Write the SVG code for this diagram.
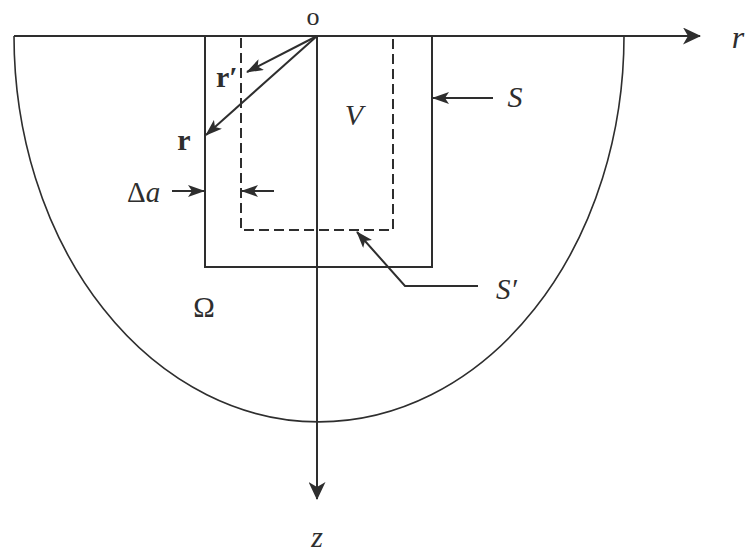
<svg xmlns="http://www.w3.org/2000/svg" width="746" height="552" viewBox="0 0 746 552">
<style>
.ln{stroke:#2e2e2e;stroke-width:2;fill:none}
.thin{stroke:#2e2e2e;stroke-width:1.6;fill:none}
.dash{stroke:#2e2e2e;stroke-width:2;fill:none;stroke-dasharray:10 5}
text{font-family:"Liberation Serif","DejaVu Serif",serif;fill:#2e2e2e}
.it{font-style:italic}
.bd{font-weight:bold}
</style>
<defs>
<marker id="big" viewBox="0 0 18 17" refX="17" refY="8.5" markerWidth="18" markerHeight="17" markerUnits="userSpaceOnUse" orient="auto">
<path d="M0,0 L18,8.5 L0,17 L5,8.5 Z" fill="#2e2e2e"/>
</marker>
<marker id="sm" viewBox="0 0 17 12" refX="16" refY="6" markerWidth="17" markerHeight="12" markerUnits="userSpaceOnUse" orient="auto">
<path d="M0,0 L17,6 L0,12 L4,6 Z" fill="#2e2e2e"/>
</marker>
</defs>
<rect width="746" height="552" fill="#fff"/>
<g id="domain">
<path class="thin" d="M14,36 A305,386 0 0 0 624,36"/>
</g>
<g id="S">
<path class="ln" d="M205,36 V267 H432 V36"/>
</g>
<g id="Sprime">
<path class="dash" d="M241,38 V230 H393 V38"/>
</g>
<g id="connectors">
<line class="ln" x1="14" y1="36" x2="700" y2="36" marker-end="url(#big)"/>
<line class="ln" x1="317" y1="36" x2="317" y2="499" marker-end="url(#big)"/>
<line class="ln" x1="317" y1="36" x2="206" y2="135" marker-end="url(#sm)"/>
<line class="ln" x1="317" y1="36" x2="247" y2="72" marker-end="url(#sm)"/>
<line class="ln" x1="493" y1="98" x2="433" y2="98" marker-end="url(#sm)"/>
<line class="ln" x1="172" y1="191" x2="204" y2="191" marker-end="url(#sm)"/>
<line class="ln" x1="274" y1="191" x2="242" y2="191" marker-end="url(#sm)"/>
<polyline class="ln" points="478,286 405,286 357,232" marker-end="url(#sm)"/>
</g>
<g id="labels">
<text x="313" y="25" font-size="26" text-anchor="middle">o</text>
<text x="738" y="48" font-size="32" class="it" text-anchor="middle">r</text>
<text x="216" y="87" font-size="30" class="bd">r′</text>
<text x="184" y="150" font-size="30" class="bd" text-anchor="middle">r</text>
<text x="354" y="125" font-size="30" class="it" text-anchor="middle">V</text>
<text x="515" y="107" font-size="30" class="it" text-anchor="middle">S</text>
<text x="127" y="202" font-size="29">Δ<tspan class="it">a</tspan></text>
<text x="496" y="299" font-size="29" class="it">S′</text>
<text x="204" y="317" font-size="29" text-anchor="middle">Ω</text>
<text x="317" y="547" font-size="30" class="it" text-anchor="middle">z</text>
</g>
</svg>
